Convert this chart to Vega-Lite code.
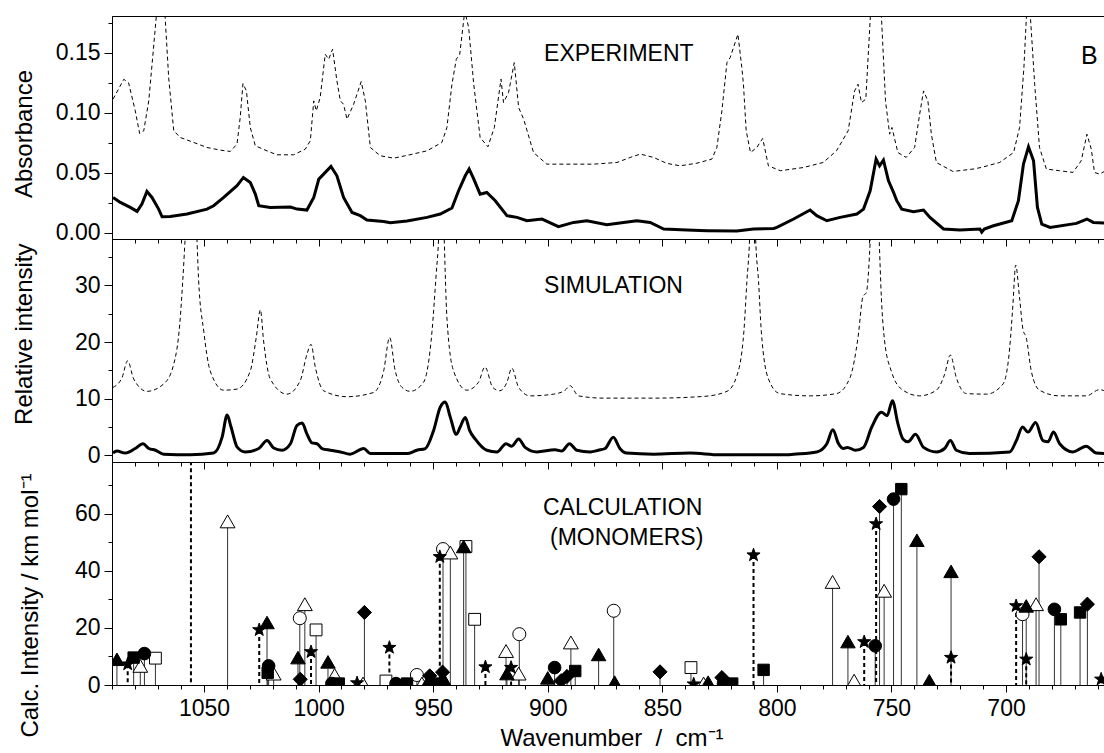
{
  "$schema": "https://vega.github.io/schema/vega-lite/v6.json",
  "padding": {"left": 11, "top": 15, "right": 0, "bottom": 0},
  "background": "white",
  "spacing": 0,
  "bounds": "flush",
  "config": {
    "view": {"stroke": "#000", "strokeWidth": 1},
    "axis": {
      "labelFont": "Liberation Sans", "labelFontSize": 23, "labelColor": "#000",
      "titleFont": "Liberation Sans", "titleFontSize": 24, "titleFontWeight": "normal", "titleColor": "#000",
      "domainColor": "#000", "tickColor": "#000", "grid": false, "labelPadding": 4
    },
    "text": {"font": "Liberation Sans", "color": "#000"}
  },
  "datasets": {
    "expDash": [
      {"wn":1089.7,"A":0.1114},{"wn":1085.0,"A":0.128},{"wn":1082.9,"A":0.125},{"wn":1080.0,"A":0.1017},{"wn":1078.1,"A":0.0828},{"wn":1076.3,"A":0.085},{"wn":1074.1,"A":0.11},{"wn":1071.9,"A":0.157},{"wn":1069.0,"A":0.22},{"wn":1067.0,"A":0.181},{"wn":1065.4,"A":0.129},{"wn":1063.2,"A":0.085},{"wn":1060.3,"A":0.0794},{"wn":1054.5,"A":0.0753},{"wn":1048.7,"A":0.0711},{"wn":1042.9,"A":0.0689},{"wn":1038.5,"A":0.0678},{"wn":1035.6,"A":0.0739},{"wn":1034.2,"A":0.0961},{"wn":1033.0,"A":0.1244},{"wn":1031.5,"A":0.1183},{"wn":1029.8,"A":0.0878},{"wn":1027.6,"A":0.0725},{"wn":1022.5,"A":0.0683},{"wn":1018.2,"A":0.065},{"wn":1010.9,"A":0.065},{"wn":1005.8,"A":0.0697},{"wn":1003.6,"A":0.0767},{"wn":1002.1,"A":0.11},{"wn":1001.0,"A":0.1017},{"wn":999.3,"A":0.1128},{"wn":997.1,"A":0.1489},{"wn":995.6,"A":0.1447},{"wn":993.9,"A":0.1531},{"wn":992.0,"A":0.1267},{"wn":990.5,"A":0.11},{"wn":989.1,"A":0.1072},{"wn":987.6,"A":0.0947},{"wn":984.7,"A":0.1072},{"wn":981.4,"A":0.1261},{"wn":979.6,"A":0.11},{"wn":977.4,"A":0.0711},{"wn":973.1,"A":0.0642},{"wn":967.2,"A":0.0622},{"wn":961.4,"A":0.0645},{"wn":952.7,"A":0.0683},{"wn":946.2,"A":0.0753},{"wn":944.0,"A":0.0878},{"wn":941.8,"A":0.1239},{"wn":939.9,"A":0.1447},{"wn":938.4,"A":0.1489},{"wn":936.2,"A":0.185},{"wn":934.5,"A":0.171},{"wn":932.3,"A":0.1239},{"wn":929.5,"A":0.0794},{"wn":926.1,"A":0.0717},{"wn":923.3,"A":0.0878},{"wn":920.4,"A":0.1281},{"wn":919.3,"A":0.1086},{"wn":917.1,"A":0.1169},{"wn":914.6,"A":0.1419},{"wn":912.7,"A":0.1044},{"wn":910.5,"A":0.0947},{"wn":906.2,"A":0.0669},{"wn":900.4,"A":0.0572},{"wn":891.6,"A":0.0572},{"wn":880.0,"A":0.0572},{"wn":869.8,"A":0.0586},{"wn":864.0,"A":0.0628},{"wn":859.6,"A":0.0656},{"wn":853.8,"A":0.0628},{"wn":848.0,"A":0.0578},{"wn":842.2,"A":0.0558},{"wn":834.9,"A":0.058},{"wn":828.4,"A":0.0614},{"wn":826.2,"A":0.0711},{"wn":824.0,"A":0.1017},{"wn":821.8,"A":0.1419},{"wn":820.4,"A":0.1461},{"wn":817.0,"A":0.1656},{"wn":815.3,"A":0.1378},{"wn":814.6,"A":0.1239},{"wn":813.4,"A":0.085},{"wn":811.5,"A":0.0669},{"wn":808.8,"A":0.0711},{"wn":806.2,"A":0.0786},{"wn":803.7,"A":0.0558},{"wn":798.5,"A":0.0517},{"wn":788.4,"A":0.0544},{"wn":779.8,"A":0.0586},{"wn":774.0,"A":0.0683},{"wn":768.9,"A":0.085},{"wn":766.1,"A":0.1183},{"wn":764.6,"A":0.1239},{"wn":763.1,"A":0.1086},{"wn":761.2,"A":0.1114},{"wn":759.2,"A":0.181},{"wn":757.0,"A":0.25},{"wn":754.4,"A":0.181},{"wn":752.6,"A":0.11},{"wn":750.8,"A":0.0822},{"wn":749.8,"A":0.0878},{"wn":747.2,"A":0.0669},{"wn":743.6,"A":0.0628},{"wn":739.9,"A":0.0711},{"wn":737.7,"A":0.0989},{"wn":736.0,"A":0.1183},{"wn":734.1,"A":0.11},{"wn":732.6,"A":0.0822},{"wn":730.4,"A":0.0586},{"wn":723.2,"A":0.0511},{"wn":714.4,"A":0.0531},{"wn":710.9,"A":0.0544},{"wn":702.8,"A":0.0586},{"wn":696.7,"A":0.0669},{"wn":694.1,"A":0.0878},{"wn":692.2,"A":0.1378},{"wn":691.1,"A":0.181},{"wn":690.2,"A":0.26},{"wn":689.4,"A":0.181},{"wn":687.5,"A":0.1239},{"wn":685.4,"A":0.0711},{"wn":682.4,"A":0.0531},{"wn":676.6,"A":0.0517},{"wn":670.8,"A":0.0503},{"wn":667.2,"A":0.06},{"wn":664.7,"A":0.0822},{"wn":662.8,"A":0.0697},{"wn":661.4,"A":0.0503},{"wn":659.2,"A":0.0489},{"wn":657.1,"A":0.0511},{"wn":654.9,"A":0.0494},{"wn":654.0,"A":0.05}
    ],
    "expSolid": [
      {"wn":1089.7,"A":0.0294},{"wn":1086.5,"A":0.0253},{"wn":1082.2,"A":0.0211},{"wn":1079.2,"A":0.0178},{"wn":1077.1,"A":0.0239},{"wn":1074.9,"A":0.0344},{"wn":1072.7,"A":0.0294},{"wn":1069.8,"A":0.0197},{"wn":1068.3,"A":0.0133},{"wn":1064.7,"A":0.0136},{"wn":1057.4,"A":0.0156},{"wn":1048.7,"A":0.0197},{"wn":1045.8,"A":0.0225},{"wn":1041.4,"A":0.0294},{"wn":1035.6,"A":0.0392},{"wn":1032.8,"A":0.0461},{"wn":1029.8,"A":0.0419},{"wn":1027.6,"A":0.0322},{"wn":1026.1,"A":0.0225},{"wn":1021.1,"A":0.0211},{"wn":1012.3,"A":0.0214},{"wn":1009.4,"A":0.0197},{"wn":1005.1,"A":0.0189},{"wn":1002.1,"A":0.0294},{"wn":999.9,"A":0.0447},{"wn":997.8,"A":0.0489},{"wn":994.6,"A":0.0553},{"wn":992.0,"A":0.0475},{"wn":989.1,"A":0.0294},{"wn":985.4,"A":0.0169},{"wn":981.8,"A":0.0142},{"wn":978.9,"A":0.0106},{"wn":971.6,"A":0.0094},{"wn":968.7,"A":0.0083},{"wn":961.4,"A":0.0097},{"wn":952.7,"A":0.0128},{"wn":946.9,"A":0.0156},{"wn":941.8,"A":0.0206},{"wn":938.9,"A":0.035},{"wn":936.0,"A":0.0475},{"wn":934.3,"A":0.0531},{"wn":932.6,"A":0.0461},{"wn":929.5,"A":0.0322},{"wn":926.6,"A":0.0336},{"wn":922.9,"A":0.0267},{"wn":917.8,"A":0.0142},{"wn":913.4,"A":0.0128},{"wn":909.1,"A":0.01},{"wn":902.5,"A":0.0114},{"wn":895.3,"A":0.005},{"wn":888.7,"A":0.0086},{"wn":882.9,"A":0.01},{"wn":874.2,"A":0.0067},{"wn":866.9,"A":0.0086},{"wn":861.1,"A":0.01},{"wn":855.3,"A":0.0086},{"wn":849.4,"A":0.0031},{"wn":839.3,"A":0.0022},{"wn":830.5,"A":0.0017},{"wn":817.5,"A":0.0014},{"wn":810.2,"A":0.0031},{"wn":801.4,"A":0.0035},{"wn":800.0,"A":0.0044},{"wn":792.7,"A":0.0114},{"wn":785.5,"A":0.0189},{"wn":782.6,"A":0.0142},{"wn":778.2,"A":0.01},{"wn":772.4,"A":0.0128},{"wn":765.1,"A":0.0156},{"wn":762.2,"A":0.0197},{"wn":759.3,"A":0.035},{"wn":756.7,"A":0.0614},{"wn":755.2,"A":0.0558},{"wn":753.5,"A":0.0606},{"wn":751.3,"A":0.0433},{"wn":749.1,"A":0.0336},{"wn":747.7,"A":0.0267},{"wn":745.5,"A":0.0197},{"wn":740.4,"A":0.0175},{"wn":736.0,"A":0.0189},{"wn":733.2,"A":0.0128},{"wn":727.3,"A":0.0031},{"wn":720.1,"A":0.0022},{"wn":711.4,"A":0.0031},{"wn":710.6,"A":0.0005},{"wn":709.5,"A":0.003},{"wn":705.5,"A":0.0058},{"wn":697.5,"A":0.01},{"wn":694.6,"A":0.0267},{"wn":692.4,"A":0.0572},{"wn":690.2,"A":0.0717},{"wn":688.0,"A":0.06},{"wn":686.3,"A":0.0211},{"wn":684.4,"A":0.0072},{"wn":680.8,"A":0.0044},{"wn":669.3,"A":0.0078},{"wn":664.7,"A":0.0114},{"wn":661.9,"A":0.0086},{"wn":654.0,"A":0.0078}
    ],
    "simDash": [
      {"wn":1089.7,"I":12.0},{"wn":1085.8,"I":13.7},{"wn":1083.3,"I":16.7},{"wn":1080.7,"I":13.5},{"wn":1074.9,"I":11.3},{"wn":1067.6,"I":12.6},{"wn":1063.2,"I":16.1},{"wn":1060.6,"I":23.1},{"wn":1059.2,"I":31.3},{"wn":1058.2,"I":38.5},{"wn":1055.6,"I":55},{"wn":1053.1,"I":38.5},{"wn":1052.4,"I":31.3},{"wn":1050.1,"I":21.9},{"wn":1047.3,"I":14.9},{"wn":1041.4,"I":11.5},{"wn":1035.6,"I":11.7},{"wn":1029.8,"I":14.9},{"wn":1027.2,"I":20.8},{"wn":1025.4,"I":25.7},{"wn":1024.0,"I":20.2},{"wn":1021.1,"I":13.5},{"wn":1013.8,"I":10.8},{"wn":1008.0,"I":13.2},{"wn":1005.1,"I":17.8},{"wn":1003.3,"I":19.6},{"wn":1001.4,"I":15.5},{"wn":997.8,"I":11.4},{"wn":987.6,"I":10.35},{"wn":976.0,"I":11.1},{"wn":971.6,"I":14.9},{"wn":969.0,"I":20.8},{"wn":966.6,"I":15.0},{"wn":963.6,"I":12.0},{"wn":960.0,"I":11.3},{"wn":954.2,"I":12.9},{"wn":950.5,"I":21.9},{"wn":948.7,"I":31.9},{"wn":947.6,"I":38.5},{"wn":946.4,"I":55},{"wn":945.2,"I":38.5},{"wn":944.0,"I":24.3},{"wn":941.1,"I":14.9},{"wn":935.3,"I":11.5},{"wn":930.2,"I":12.9},{"wn":927.4,"I":15.6},{"wn":924.0,"I":12.0},{"wn":920.9,"I":11.4},{"wn":917.8,"I":12.9},{"wn":915.7,"I":15.4},{"wn":912.7,"I":12.0},{"wn":907.7,"I":10.5},{"wn":897.5,"I":10.8},{"wn":892.4,"I":11.5},{"wn":890.3,"I":12.3},{"wn":886.6,"I":10.5},{"wn":875.7,"I":10.1},{"wn":853.8,"I":10.1},{"wn":832.0,"I":10.4},{"wn":821.8,"I":11.3},{"wn":817.5,"I":14.0},{"wn":814.4,"I":21.9},{"wn":813.1,"I":30.7},{"wn":811.9,"I":38.5},{"wn":810.6,"I":60},{"wn":809.3,"I":38.5},{"wn":808.0,"I":30.7},{"wn":806.8,"I":21.9},{"wn":803.7,"I":13.5},{"wn":798.7,"I":10.9},{"wn":785.5,"I":10.5},{"wn":774.0,"I":10.9},{"wn":768.1,"I":13.7},{"wn":764.6,"I":20.8},{"wn":762.4,"I":28.1},{"wn":761.0,"I":28.7},{"wn":759.2,"I":38.5},{"wn":757.3,"I":60},{"wn":755.4,"I":38.5},{"wn":754.4,"I":27.8},{"wn":753.0,"I":20.2},{"wn":750.1,"I":14.9},{"wn":745.0,"I":11.5},{"wn":737.7,"I":10.5},{"wn":730.4,"I":11.5},{"wn":726.8,"I":14.3},{"wn":724.3,"I":17.7},{"wn":721.7,"I":13.7},{"wn":717.3,"I":10.9},{"wn":708.6,"I":10.8},{"wn":701.3,"I":12.6},{"wn":698.4,"I":19.0},{"wn":697.0,"I":26.6},{"wn":695.8,"I":33.6},{"wn":694.1,"I":27.8},{"wn":692.6,"I":22.2},{"wn":691.2,"I":20.8},{"wn":689.0,"I":14.9},{"wn":685.4,"I":11.5},{"wn":676.6,"I":10.5},{"wn":665.0,"I":10.5},{"wn":659.2,"I":11.6},{"wn":654.0,"I":10.6}
    ],
    "simSolid": [
      {"wn":1089.7,"I":0.4},{"wn":1088.0,"I":0.75},{"wn":1084.3,"I":0.4},{"wn":1080.0,"I":1.2},{"wn":1076.6,"I":2.05},{"wn":1074.1,"I":1.2},{"wn":1071.2,"I":0.9},{"wn":1067.6,"I":0.2},{"wn":1056.0,"I":0.1},{"wn":1045.8,"I":0.4},{"wn":1042.1,"I":3.2},{"wn":1039.9,"I":7.1},{"wn":1038.2,"I":5.0},{"wn":1035.6,"I":1.5},{"wn":1032.0,"I":0.6},{"wn":1026.1,"I":1.2},{"wn":1022.5,"I":2.6},{"wn":1019.6,"I":1.3},{"wn":1016.0,"I":0.9},{"wn":1012.3,"I":2.05},{"wn":1009.4,"I":5.3},{"wn":1007.2,"I":5.7},{"wn":1005.1,"I":3.8},{"wn":1002.9,"I":2.2},{"wn":1000.7,"I":2.05},{"wn":998.5,"I":1.2},{"wn":994.9,"I":0.9},{"wn":990.5,"I":0.6},{"wn":986.2,"I":0.2},{"wn":980.3,"I":1.2},{"wn":977.4,"I":0.3},{"wn":961.4,"I":0.3},{"wn":957.1,"I":0.9},{"wn":953.4,"I":1.2},{"wn":949.8,"I":4.4},{"wn":946.9,"I":8.5},{"wn":944.7,"I":9.4},{"wn":942.5,"I":6.7},{"wn":939.9,"I":3.7},{"wn":938.2,"I":5.0},{"wn":936.0,"I":6.7},{"wn":934.1,"I":4.4},{"wn":931.7,"I":2.9},{"wn":926.6,"I":0.9},{"wn":922.2,"I":0.6},{"wn":918.2,"I":2.05},{"wn":915.7,"I":1.6},{"wn":912.7,"I":2.9},{"wn":909.9,"I":1.4},{"wn":904.7,"I":0.6},{"wn":896.8,"I":1.0},{"wn":893.9,"I":0.75},{"wn":890.5,"I":2.05},{"wn":887.3,"I":0.9},{"wn":881.5,"I":0.6},{"wn":877.9,"I":0.9},{"wn":875.0,"I":1.2},{"wn":871.4,"I":3.2},{"wn":868.5,"I":1.2},{"wn":865.6,"I":0.4},{"wn":853.8,"I":0.2},{"wn":837.9,"I":0.4},{"wn":824.8,"I":0.1},{"wn":795.7,"I":0.1},{"wn":792.7,"I":0.2},{"wn":782.6,"I":0.6},{"wn":778.2,"I":2.05},{"wn":775.6,"I":4.5},{"wn":773.1,"I":2.05},{"wn":770.9,"I":1.2},{"wn":769.2,"I":1.4},{"wn":765.8,"I":0.9},{"wn":762.2,"I":1.4},{"wn":758.6,"I":5.0},{"wn":754.4,"I":7.6},{"wn":751.9,"I":7.0},{"wn":749.6,"I":9.65},{"wn":747.2,"I":5.6},{"wn":745.0,"I":2.9},{"wn":742.8,"I":2.4},{"wn":739.5,"I":3.7},{"wn":736.0,"I":1.4},{"wn":730.4,"I":0.6},{"wn":726.8,"I":1.2},{"wn":724.3,"I":2.6},{"wn":721.7,"I":0.9},{"wn":715.9,"I":0.3},{"wn":698.4,"I":0.6},{"wn":695.5,"I":2.6},{"wn":692.8,"I":5.0},{"wn":690.4,"I":4.1},{"wn":687.1,"I":5.8},{"wn":683.9,"I":2.6},{"wn":681.7,"I":2.4},{"wn":679.3,"I":4.1},{"wn":676.6,"I":2.05},{"wn":670.8,"I":0.6},{"wn":665.0,"I":1.6},{"wn":660.6,"I":0.4},{"wn":654.0,"I":0.3}
    ],
    "sticks": [
      {"wn":1088.0,"I":9.0,"sym":"tf"},{"wn":1083.3,"I":7.3,"sym":"st"},{"wn":1080.7,"I":9.6,"sym":"sf"},{"wn":1077.8,"I":6.7,"sym":"to"},{"wn":1076.0,"I":11.0,"sym":"cf"},{"wn":1071.2,"I":9.4,"sym":"so"},{"wn":1055.7,"I":120,"sym":"st"},{"wn":1039.7,"I":57.3,"sym":"to"},{"wn":1025.9,"I":19.3,"sym":"st"},{"wn":1022.5,"I":21.9,"sym":"tf"},{"wn":1021.8,"I":6.7,"sym":"cf"},{"wn":1022.2,"I":4.3,"sym":"sf"},{"wn":1019.6,"I":4.0,"sym":"to"},{"wn":1008.2,"I":23.4,"sym":"co"},{"wn":1006.0,"I":28.3,"sym":"to"},{"wn":1009.0,"I":9.6,"sym":"tf"},{"wn":1008.0,"I":2.0,"sym":"df"},{"wn":1001.1,"I":19.3,"sym":"so"},{"wn":1003.3,"I":11.6,"sym":"st"},{"wn":995.9,"I":8.1,"sym":"tf"},{"wn":993.0,"I":3.5,"sym":"to"},{"wn":994.2,"I":0.5,"sym":"cf"},{"wn":991.2,"I":0.5,"sym":"sf"},{"wn":983.2,"I":0.7,"sym":"st"},{"wn":980.6,"I":0.5,"sym":"to"},{"wn":980.0,"I":25.4,"sym":"df"},{"wn":969.1,"I":13.1,"sym":"st"},{"wn":970.6,"I":1.4,"sym":"so"},{"wn":966.2,"I":0.5,"sym":"cf"},{"wn":961.4,"I":0.5,"sym":"sf"},{"wn":957.1,"I":3.5,"sym":"co"},{"wn":954.9,"I":0.5,"sym":"to"},{"wn":951.5,"I":3.2,"sym":"df"},{"wn":952.0,"I":1.5,"sym":"tf"},{"wn":951.0,"I":0.5,"sym":"cf"},{"wn":948.3,"I":0.5,"sym":"sf"},{"wn":945.9,"I":4.5,"sym":"df"},{"wn":944.7,"I":1.0,"sym":"tf"},{"wn":945.7,"I":47.6,"sym":"co"},{"wn":947.1,"I":44.9,"sym":"st"},{"wn":942.5,"I":46.4,"sym":"to"},{"wn":935.7,"I":48.5,"sym":"so"},{"wn":936.7,"I":48.5,"sym":"tf"},{"wn":931.9,"I":23.0,"sym":"so"},{"wn":927.2,"I":6.3,"sym":"st"},{"wn":918.2,"I":11.9,"sym":"to"},{"wn":917.8,"I":4.0,"sym":"tf"},{"wn":916.0,"I":6.1,"sym":"st"},{"wn":912.7,"I":4.0,"sym":"to"},{"wn":912.4,"I":17.8,"sym":"co"},{"wn":900.0,"I":2.5,"sym":"tf"},{"wn":897.0,"I":6.1,"sym":"cf"},{"wn":894.2,"I":1.5,"sym":"df"},{"wn":891.6,"I":3.0,"sym":"df"},{"wn":888.0,"I":4.9,"sym":"sf"},{"wn":889.9,"I":14.9,"sym":"to"},{"wn":877.8,"I":10.7,"sym":"tf"},{"wn":871.2,"I":26.0,"sym":"co"},{"wn":870.8,"I":1.0,"sym":"tf"},{"wn":851.0,"I":4.6,"sym":"df"},{"wn":837.5,"I":6.1,"sym":"so"},{"wn":836.3,"I":0.3,"sym":"st"},{"wn":832.0,"I":0.5,"sym":"to"},{"wn":830.0,"I":1.0,"sym":"tf"},{"wn":824.0,"I":2.6,"sym":"df"},{"wn":823.3,"I":0.5,"sym":"cf"},{"wn":819.5,"I":0.5,"sym":"sf"},{"wn":810.2,"I":45.5,"sym":"st"},{"wn":805.8,"I":5.3,"sym":"sf"},{"wn":775.7,"I":36.1,"sym":"to"},{"wn":769.0,"I":15.2,"sym":"tf"},{"wn":766.3,"I":1.5,"sym":"to"},{"wn":761.9,"I":15.1,"sym":"st"},{"wn":757.1,"I":13.7,"sym":"cf"},{"wn":756.7,"I":56.4,"sym":"st"},{"wn":755.2,"I":62.5,"sym":"df"},{"wn":753.2,"I":33.0,"sym":"to"},{"wn":749.1,"I":65.1,"sym":"cf"},{"wn":745.7,"I":68.6,"sym":"sf"},{"wn":738.9,"I":50.7,"sym":"tf"},{"wn":733.5,"I":1.5,"sym":"tf"},{"wn":724.0,"I":39.8,"sym":"tf"},{"wn":724.0,"I":9.6,"sym":"st"},{"wn":695.6,"I":27.7,"sym":"st"},{"wn":692.8,"I":24.8,"sym":"co"},{"wn":691.2,"I":27.7,"sym":"tf"},{"wn":691.2,"I":9.0,"sym":"st"},{"wn":686.9,"I":28.3,"sym":"to"},{"wn":685.6,"I":44.9,"sym":"df"},{"wn":678.9,"I":26.5,"sym":"cf"},{"wn":676.1,"I":23.0,"sym":"sf"},{"wn":667.7,"I":25.4,"sym":"sf"},{"wn":664.5,"I":28.3,"sym":"df"},{"wn":658.5,"I":2.0,"sym":"st"}
    ]
  },
  "vconcat": [
    {
      "width": 999, "height": 223,
      "encoding": {
        "x": {"field": "wn", "type": "quantitative",
          "scale": {"domain": [654.2, 1090.15], "reverse": true, "nice": false, "zero": false},
          "axis": {"title": null, "labels": false,
            "values": [660,670,680,690,700,710,720,730,740,750,760,770,780,790,800,810,820,830,840,850,860,870,880,890,900,910,920,930,940,950,960,970,980,990,1000,1010,1020,1030,1040,1050,1060,1070,1080,1090],
            "tickSize": {"condition": {"test": "datum.value % 50 === 0", "value": 7}, "value": 4}}},
        "y": {"field": "A", "type": "quantitative",
          "scale": {"domain": [-0.00525, 0.1808], "nice": false, "zero": false},
          "axis": {"title": "Absorbance", "titleX": -81, "titleY": 117.5, "titleBaseline": "alphabetic",
            "values": [0, 0.025, 0.05, 0.075, 0.1, 0.125, 0.15, 0.175], "format": ".2f",
            "labelExpr": "abs(datum.value*20 - round(datum.value*20)) < 0.001 ? datum.label : ''",
            "tickSize": {"condition": {"test": "abs(datum.value*20 - round(datum.value*20)) < 0.001", "value": 8}, "value": 4}}}
      },
      "layer": [
        {"data": {"name": "expDash"}, "mark": {"type": "line", "color": "#000", "strokeWidth": 1, "strokeDash": [4, 3], "clip": true}},
        {"data": {"name": "expSolid"}, "mark": {"type": "line", "color": "#000", "strokeWidth": 3, "clip": true}},
        {"data": {"values": [{"wn": 901.6, "A": 0.1433, "label": "EXPERIMENT"}]},
          "mark": {"type": "text", "align": "left", "baseline": "alphabetic", "fontSize": 23},
          "encoding": {"text": {"field": "label"}}},
        {"data": {"values": [{"wn": 667.3, "A": 0.1406, "label": "B"}]},
          "mark": {"type": "text", "align": "left", "baseline": "alphabetic", "fontSize": 25},
          "encoding": {"text": {"field": "label"}}}
      ]
    },
    {
      "width": 999, "height": 223,
      "encoding": {
        "x": {"field": "wn", "type": "quantitative",
          "scale": {"domain": [654.2, 1090.15], "reverse": true, "nice": false, "zero": false},
          "axis": {"title": null, "labels": false,
            "values": [660,670,680,690,700,710,720,730,740,750,760,770,780,790,800,810,820,830,840,850,860,870,880,890,900,910,920,930,940,950,960,970,980,990,1000,1010,1020,1030,1040,1050,1060,1070,1080,1090],
            "tickSize": {"condition": {"test": "datum.value % 50 === 0", "value": 7}, "value": 4}}},
        "y": {"field": "I", "type": "quantitative",
          "scale": {"domain": [-1.18, 38.2], "nice": false, "zero": false},
          "axis": {"title": "Relative intensity", "titleX": -81, "titleY": 94.7, "titleBaseline": "alphabetic",
            "values": [0, 5, 10, 15, 20, 25, 30, 35], "format": "d",
            "labelExpr": "datum.value % 10 === 0 ? datum.label : ''",
            "tickSize": {"condition": {"test": "datum.value % 10 === 0", "value": 8}, "value": 4}}}
      },
      "layer": [
        {"data": {"name": "simDash"}, "mark": {"type": "line", "color": "#000", "strokeWidth": 1, "strokeDash": [4, 3], "interpolate": "monotone", "clip": true}},
        {"data": {"name": "simSolid"}, "mark": {"type": "line", "color": "#000", "strokeWidth": 3, "interpolate": "monotone", "clip": true}},
        {"data": {"values": [{"wn": 901.6, "I": 28.7, "label": "SIMULATION"}]},
          "mark": {"type": "text", "align": "left", "baseline": "alphabetic", "fontSize": 23},
          "encoding": {"text": {"field": "label"}}}
      ]
    },
    {
      "width": 999, "height": 223,
      "encoding": {
        "x": {"field": "wn", "type": "quantitative",
          "scale": {"domain": [654.2, 1090.15], "reverse": true, "nice": false, "zero": false},
          "axis": {"title": "Wavenumber\u00a0\u00a0/\u00a0\u00a0cm\u207b\u00b9", "format": "d", "labelPadding": 5, "titlePadding": 6,
            "values": [660,670,680,690,700,710,720,730,740,750,760,770,780,790,800,810,820,830,840,850,860,870,880,890,900,910,920,930,940,950,960,970,980,990,1000,1010,1020,1030,1040,1050,1060,1070,1080,1090],
            "labelExpr": "datum.value % 50 === 0 ? datum.label : ''",
            "tickSize": {"condition": {"test": "datum.value % 50 === 0", "value": 7}, "value": 4}}},
        "y": {"field": "I", "type": "quantitative",
          "scale": {"domain": [0, 78.1], "nice": false, "zero": false},
          "axis": {"title": "Calc. Intensity / km mol\u207b\u00b9", "titleX": -75, "titleY": 143, "titleBaseline": "alphabetic",
            "values": [0, 10, 20, 30, 40, 50, 60, 70], "format": "d",
            "labelExpr": "datum.value % 20 === 0 ? datum.label : ''",
            "tickSize": {"condition": {"test": "datum.value % 20 === 0", "value": 8}, "value": 4}}}
      },
      "layer": [
        {"data": {"name": "sticks"}, "transform": [{"filter": "datum.sym !== 'st'"}],
          "mark": {"type": "rule", "color": "#333", "strokeWidth": 1, "clip": true},
          "encoding": {"y2": {"datum": 0}}},
        {"data": {"name": "sticks"}, "transform": [{"filter": "datum.sym === 'st'"}],
          "mark": {"type": "rule", "color": "#000", "strokeWidth": 2, "strokeDash": [4, 3], "clip": true},
          "encoding": {"y2": {"datum": 0}}},
        {"data": {"name": "sticks"}, "transform": [{"filter": "datum.sym === 'co'"}],
          "mark": {"type": "point", "shape": "circle", "filled": true, "fill": "#fff", "stroke": "#000", "strokeWidth": 1, "size": 170, "opacity": 1, "clip": true}},
        {"data": {"name": "sticks"}, "transform": [{"filter": "datum.sym === 'so'"}],
          "mark": {"type": "point", "shape": "square", "filled": true, "fill": "#fff", "stroke": "#000", "strokeWidth": 1, "size": 140, "opacity": 1, "clip": true}},
        {"data": {"name": "sticks"}, "transform": [{"filter": "datum.sym === 'to'"}],
          "mark": {"type": "point", "shape": "triangle-up", "filled": true, "fill": "#fff", "stroke": "#000", "strokeWidth": 1, "size": 220, "opacity": 1, "clip": true}},
        {"data": {"name": "sticks"}, "transform": [{"filter": "datum.sym === 'df'"}],
          "mark": {"type": "point", "shape": "diamond", "filled": true, "fill": "#000", "stroke": "#000", "strokeWidth": 1, "size": 200, "opacity": 1, "clip": true}},
        {"data": {"name": "sticks"}, "transform": [{"filter": "datum.sym === 'cf'"}],
          "mark": {"type": "point", "shape": "circle", "filled": true, "fill": "#000", "stroke": "#000", "strokeWidth": 1, "size": 160, "opacity": 1, "clip": true}},
        {"data": {"name": "sticks"}, "transform": [{"filter": "datum.sym === 'sf'"}],
          "mark": {"type": "point", "shape": "square", "filled": true, "fill": "#000", "stroke": "#000", "strokeWidth": 1, "size": 130, "opacity": 1, "clip": true}},
        {"data": {"name": "sticks"}, "transform": [{"filter": "datum.sym === 'tf'"}],
          "mark": {"type": "point", "shape": "triangle-up", "filled": true, "fill": "#000", "stroke": "#000", "strokeWidth": 1, "size": 210, "opacity": 1, "clip": true}},
        {"data": {"name": "sticks"}, "transform": [{"filter": "datum.sym === 'st'"}],
          "mark": {"type": "point", "shape": "M0,-1L0.235,-0.324L0.951,-0.309L0.38,0.124L0.588,0.809L0,0.4L-0.588,0.809L-0.38,0.124L-0.951,-0.309L-0.235,-0.324Z", "filled": true, "fill": "#000", "stroke": "#000", "strokeWidth": 1, "size": 190, "opacity": 1, "clip": true}},
        {"data": {"values": [{"wn": 902.1, "I": 59.4, "label": "CALCULATION"}, {"wn": 899.0, "I": 48.9, "label": "(MONOMERS)"}]},
          "mark": {"type": "text", "align": "left", "baseline": "alphabetic", "fontSize": 23},
          "encoding": {"text": {"field": "label"}}}
      ]
    }
  ]
}
